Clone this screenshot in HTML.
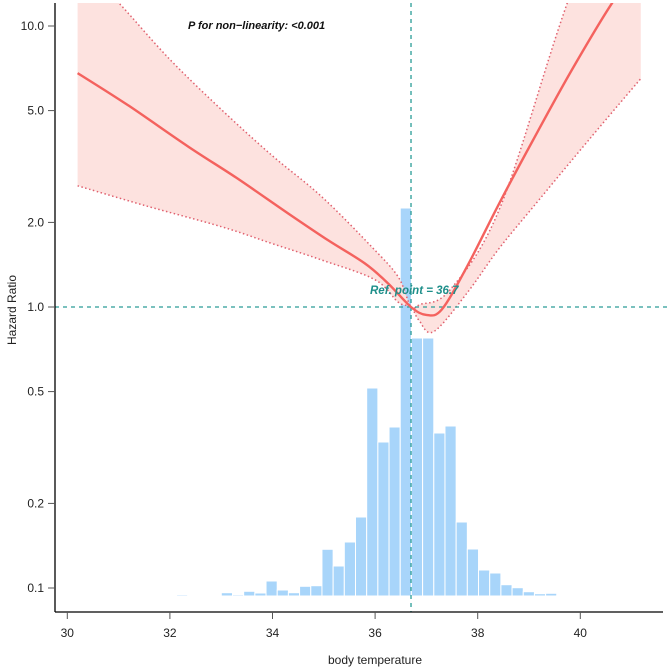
<!DOCTYPE html>
<html><head><meta charset="utf-8"><style>
html,body{margin:0;padding:0;background:#fff;}
svg{display:block;font-family:"Liberation Sans",Arial,sans-serif;}
</style></head><body>
<svg id="chart" width="668" height="667" viewBox="0 0 668 667">
<defs><clipPath id="clip"><rect x="55" y="3" width="613" height="609"/></clipPath></defs>
<g id="hist" clip-path="url(#clip)"></g>
<g id="band" clip-path="url(#clip)"></g>
<g id="refs"></g>
<g id="curve" clip-path="url(#clip)"></g>
<g id="axes"></g>
<text x="188" y="29" font-size="11" font-weight="bold" font-style="italic" fill="#111">P for non−linearity: &lt;0.001</text>
<text x="370" y="294" font-size="11.5" font-weight="bold" font-style="italic" fill="#1e8f8a">Ref. point = 36.7</text>
<text x="375" y="664" font-size="12" text-anchor="middle" fill="#222">body temperature</text>
<text transform="translate(16,310) rotate(-90)" font-size="12" text-anchor="middle" fill="#222">Hazard Ratio</text>
</svg>
<script>
const xTicks=[30,32,34,36,38,40];
const yTicks=[0.1,0.2,0.5,1.0,2.0,5.0,10.0];
const yTickLabels=["0.1","0.2","0.5","1.0","2.0","5.0","10.0"];
const refX=36.7;
const refY=1.0;
const histStart=32.13;
const histWidth=0.218;
const histFreq=[1.3,0.5,0.3,0.3,3.3,1.3,4.7,3,15,6,3.3,9.7,10.3,46.7,30,54,79,208,154,169,388,258,258,163,170,74,47,26,23,11.3,8.3,4.3,2.3,2.7,1];
const curveX=[30.2,31.2,32.36,33.3,34.31,35.1,35.8,36.26,36.7,37.0,37.3,37.79,38.4,39.08,39.8,40.61,41.18];
const curveHR=[6.8,5.2,3.72,2.88,2.15,1.72,1.43,1.21,1.0,0.937,0.98,1.39,2.3,3.93,6.8,12.0,16.5];
const upperX=[30.2,31,32,33.01,34,34.96,35.93,36.45,36.7,36.87,37.46,38.44,39.74,41.18];
const upperHR=[17,12.1,7.6,5.03,3.45,2.47,1.64,1.28,1.0,1.02,1.15,2.27,12,60];
const lowerX=[30.2,31.5,33.01,34,34.96,36.0,36.45,36.7,36.85,37.14,37.79,38.4,39.08,40.2,41.18];
const lowerHR=[2.7,2.3,1.93,1.68,1.47,1.25,1.04,1.0,0.9,0.817,1.12,1.6,2.27,4.0,6.5];

const NS="http://www.w3.org/2000/svg";
function sx(v){return 67.3+(v-30)*51.3;}
function sy(h){return 307-281*Math.log10(h);}
function hh(f){return f*1.0;}
const baseY=596;
function mk(tag,attrs,parent){const e=document.createElementNS(NS,tag);for(const k in attrs)e.setAttribute(k,attrs[k]);parent.appendChild(e);return e;}
function pathFrom(xs,hs){
  const p=xs.map((x,i)=>[sx(x),sy(hs[i])]);
  let d="M"+p[0][0].toFixed(1)+","+p[0][1].toFixed(1);
  for(let i=0;i<p.length-1;i++){
    const p0=p[Math.max(0,i-1)],p1=p[i],p2=p[i+1],p3=p[Math.min(p.length-1,i+2)];
    const c1=[p1[0]+(p2[0]-p0[0])/6,p1[1]+(p2[1]-p0[1])/6];
    const c2=[p2[0]-(p3[0]-p1[0])/6,p2[1]-(p3[1]-p1[1])/6];
    d+="C"+c1[0].toFixed(1)+","+c1[1].toFixed(1)+" "+c2[0].toFixed(1)+","+c2[1].toFixed(1)+" "+p2[0].toFixed(1)+","+p2[1].toFixed(1);
  }
  return d;
}
const hist=document.getElementById('hist');
histFreq.forEach((f,i)=>{
  const x0=sx(histStart+i*histWidth),x1=sx(histStart+(i+1)*histWidth);
  const r=mk('rect',{x:x0,y:baseY-hh(f),width:x1-x0,height:hh(f),fill:'#a8d5fa',stroke:'#fff','stroke-width':1},hist);
  
  
});
const band=document.getElementById('band');
const lo=lowerX.map((x,i)=>[x,lowerHR[i]]).reverse();
const upD=pathFrom(upperX,upperHR);
const loD=pathFrom(lo.map(a=>a[0]),lo.map(a=>a[1]));
const fill=mk('path',{d:upD+" L"+loD.slice(1)+" Z",fill:'#fde2df',stroke:'none'},band);


const ub=mk('path',{d:upD,fill:'none',stroke:'#e0606e','stroke-width':1.5,'stroke-dasharray':'1.5 2.5'},band);


const lb=mk('path',{d:pathFrom(lowerX,lowerHR),fill:'none',stroke:'#e0606e','stroke-width':1.5,'stroke-dasharray':'1.5 2.5'},band);


const refs=document.getElementById('refs');
const vl=mk('line',{x1:sx(refX),x2:sx(refX),y1:3,y2:612,stroke:'#2a9c96','stroke-width':1.3,'stroke-dasharray':'4 4'},refs);


const hl=mk('line',{x1:55,x2:668,y1:sy(refY),y2:sy(refY),stroke:'#2a9c96','stroke-width':1.3,'stroke-dasharray':'4 4'},refs);


const curve=document.getElementById('curve');
const cl=mk('path',{d:pathFrom(curveX,curveHR),fill:'none',stroke:'#f4625e','stroke-width':2.4},curve);


const axes=document.getElementById('axes');
const ya=mk('line',{x1:55,x2:55,y1:3,y2:612,stroke:'#000','stroke-width':1.3},axes);


const xa=mk('line',{x1:55,x2:663,y1:612,y2:612,stroke:'#000','stroke-width':1.3},axes);


xTicks.forEach(v=>{
  const t=mk('line',{x1:sx(v),x2:sx(v),y1:612,y2:619,stroke:'#555','stroke-width':1},axes);
  
  
  const l=mk('text',{x:sx(v),y:637,'font-size':12,'text-anchor':'middle',fill:'#222'},axes);
  l.textContent=String(v);
  
  
});
yTicks.forEach((v,i)=>{
  const t=mk('line',{x1:48,x2:55,y1:sy(v),y2:sy(v),stroke:'#555','stroke-width':1},axes);
  
  
  const l=mk('text',{x:44,y:sy(v)+4,'font-size':12,'text-anchor':'end',fill:'#222'},axes);
  l.textContent=yTickLabels[i];
  
  
});
</script>
</body></html>
